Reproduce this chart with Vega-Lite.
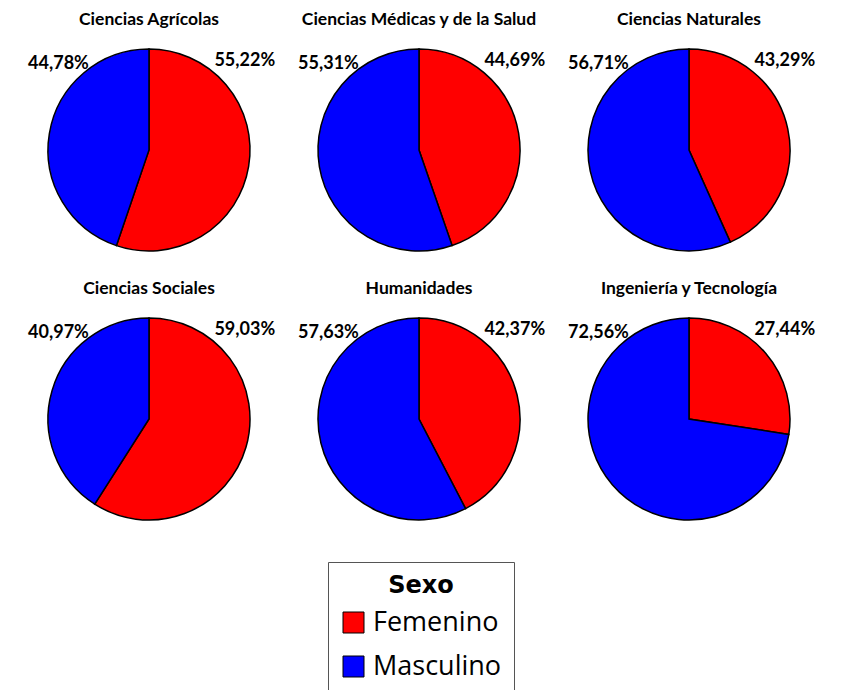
{
  "$schema": "https://vega.github.io/schema/vega-lite/v6.json",
  "background": "white",
  "padding": {"left": 14, "top": 10, "right": 5, "bottom": 0},
  "config": {
    "locale": {"number": {"decimal": ",", "thousands": ".", "grouping": [3], "currency": ["", " €"]}},
    "view": {"stroke": null}
  },
  "data": {"values": [
    {"area": "Ciencias Agrícolas", "Sexo": "Femenino", "pct": 0.5522},
    {"area": "Ciencias Agrícolas", "Sexo": "Masculino", "pct": 0.4478},
    {"area": "Ciencias Médicas y de la Salud", "Sexo": "Femenino", "pct": 0.4469},
    {"area": "Ciencias Médicas y de la Salud", "Sexo": "Masculino", "pct": 0.5531},
    {"area": "Ciencias Naturales", "Sexo": "Femenino", "pct": 0.4329},
    {"area": "Ciencias Naturales", "Sexo": "Masculino", "pct": 0.5671},
    {"area": "Ciencias Sociales", "Sexo": "Femenino", "pct": 0.5903},
    {"area": "Ciencias Sociales", "Sexo": "Masculino", "pct": 0.4097},
    {"area": "Humanidades", "Sexo": "Femenino", "pct": 0.4237},
    {"area": "Humanidades", "Sexo": "Masculino", "pct": 0.5763},
    {"area": "Ingeniería y Tecnología", "Sexo": "Femenino", "pct": 0.2744},
    {"area": "Ingeniería y Tecnología", "Sexo": "Masculino", "pct": 0.7256}
  ]},
  "facet": {
    "field": "area", "type": "nominal",
    "sort": ["Ciencias Agrícolas", "Ciencias Médicas y de la Salud", "Ciencias Naturales", "Ciencias Sociales", "Humanidades", "Ingeniería y Tecnología"],
    "header": {"title": null, "labelFont": "Lato", "labelFontSize": 17.5, "labelFontWeight": "bold", "labelColor": "black", "labelPadding": 2}
  },
  "columns": 3,
  "spacing": {"row": 9, "column": 0},
  "spec": {
    "width": 270,
    "height": 240,
    "layer": [
      {
        "mark": {"type": "arc", "outerRadius": 101, "stroke": "black", "strokeWidth": 1.5},
        "encoding": {
          "theta": {"field": "pct", "type": "quantitative", "stack": true},
          "order": {"field": "Sexo", "sort": "ascending"},
          "color": {
            "field": "Sexo", "type": "nominal",
            "scale": {"domain": ["Femenino", "Masculino"], "range": ["#FF0000", "#0000FF"]},
            "legend": {
              "orient": "none", "legendX": 314, "legendY": 532, "direction": "vertical",
              "title": "Sexo", "titleFont": "DejaVu Sans", "titleFontSize": 24, "titleFontWeight": "bold",
              "titleAnchor": "middle", "titleColor": "black", "titlePadding": 11,
              "labelFont": "Open Sans", "labelFontSize": 27, "labelColor": "black", "labelOffset": 6,
              "symbolType": "square", "symbolSize": 441, "symbolStrokeColor": "black", "symbolStrokeWidth": 1, "symbolOpacity": 1,
              "strokeColor": "#555", "fillColor": "white", "padding": 12, "rowPadding": 16
            }
          }
        }
      },
      {
        "transform": [{"filter": "datum.Sexo == 'Femenino'"}],
        "mark": {"type": "text", "theta": 0.82, "radius": 131, "font": "Lato", "fontSize": 18, "fontWeight": "bold", "color": "black", "align": "center", "baseline": "middle"},
        "encoding": {"text": {"field": "pct", "type": "quantitative", "format": ".2%"}}
      },
      {
        "transform": [{"filter": "datum.Sexo == 'Masculino'"}],
        "mark": {"type": "text", "theta": -0.81, "radius": 125, "font": "Lato", "fontSize": 18, "fontWeight": "bold", "color": "black", "align": "center", "baseline": "middle"},
        "encoding": {"text": {"field": "pct", "type": "quantitative", "format": ".2%"}}
      }
    ]
  }
}
